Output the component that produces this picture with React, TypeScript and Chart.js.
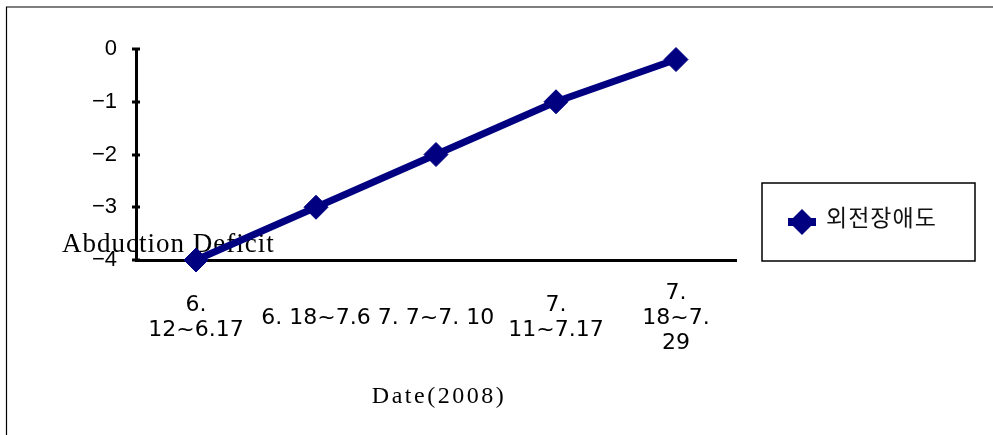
import React, { useEffect, useRef } from "react";
import { Chart, registerables } from "chart.js";

Chart.register(...registerables);

const categories: (string | string[])[] = [
  ["6.", "12~6.17"],
  "6. 18~7.6",
  "7. 7~7. 10",
  ["7.", "11~7.17"],
  ["7.", "18~7.", "29"],
];
const seriesName = "외전장애도";
const deficitValues = [-4, -3, -2, -1, -0.2];
const yMin = -4;
const yMax = 0;
const yStep = 1;
const yTitle = "Abduction Deficit";
const xTitle = "Date(2008)";

const NAVY = "#000080";

const decorPlugin = {
  id: "decor",
  beforeDraw(chart: any) {
    const ctx = chart.ctx;
    ctx.save();
    ctx.fillStyle = "#ffffff";
    ctx.fillRect(0, 0, chart.width, chart.height);
    // outer frame (top & left visible)
    ctx.strokeStyle = "#000";
    ctx.lineWidth = 1.2;
    ctx.beginPath();
    ctx.moveTo(6.5, chart.height);
    ctx.lineTo(6.5, 7);
    ctx.lineTo(chart.width, 7);
    ctx.stroke();
    // axis titles
    ctx.fillStyle = "#000";
    ctx.textBaseline = "alphabetic";
    ctx.font = "27px 'Liberation Serif', serif";
    (ctx as any).letterSpacing = "1px";
    ctx.textAlign = "left";
    ctx.fillText(yTitle, 62, 252);
    ctx.font = "24px 'Liberation Serif', serif";
    (ctx as any).letterSpacing = "2.5px";
    ctx.textAlign = "center";
    const area = chart.chartArea;
    ctx.fillText(xTitle, (area.left + area.right) / 2 + 3, 403);
    (ctx as any).letterSpacing = "0px";
    ctx.restore();
  },
  afterDraw(chart: any) {
    const ctx = chart.ctx;
    const yScale = chart.scales.y;
    const area = chart.chartArea;
    ctx.save();
    ctx.strokeStyle = "#000";
    ctx.lineWidth = 3;
    for (let v = yMin; v <= yMax; v += yStep) {
      const py = Math.round(yScale.getPixelForValue(v));
      ctx.beginPath();
      ctx.moveTo(area.left - 4, py);
      ctx.lineTo(area.left + 4, py);
      ctx.stroke();
    }
    // legend box
    const bx = 762, by = 183, bw = 213, bh = 78;
    ctx.lineWidth = 1.5;
    ctx.strokeRect(bx, by, bw, bh);
    const my = 222;
    ctx.strokeStyle = NAVY;
    ctx.lineWidth = 8;
    ctx.beginPath();
    ctx.moveTo(788, my);
    ctx.lineTo(816, my);
    ctx.stroke();
    ctx.fillStyle = NAVY;
    ctx.beginPath();
    ctx.moveTo(802, my - 13);
    ctx.lineTo(815, my);
    ctx.lineTo(802, my + 13);
    ctx.lineTo(789, my);
    ctx.closePath();
    ctx.fill();
    ctx.fillStyle = "#111";
    ctx.font = "23px 'Noto Sans CJK KR', sans-serif";
    (ctx as any).letterSpacing = "1px";
    ctx.textAlign = "left";
    ctx.textBaseline = "middle";
    ctx.fillText(seriesName, 826, 217);
    (ctx as any).letterSpacing = "0px";
    ctx.restore();
  },
};

export default function App() {
  const canvasRef = useRef<HTMLCanvasElement | null>(null);

  useEffect(() => {
    const canvas = canvasRef.current;
    if (!canvas) return;
    const chart = new Chart(canvas, {
      type: "line",
      data: {
        labels: categories,
        datasets: [
          {
            label: seriesName,
            data: deficitValues,
            borderColor: NAVY,
            backgroundColor: NAVY,
            borderWidth: 7,
            tension: 0,
            pointStyle: "rectRot",
            pointRadius: 12,
            pointBorderWidth: 1,
            pointBackgroundColor: NAVY,
            pointBorderColor: NAVY,
            clip: false as any,
          },
        ],
      },
      options: {
        responsive: false,
        animation: false,
        events: [],
        layout: { padding: { left: 0, top: 49, right: 257, bottom: 75 } },
        plugins: {
          legend: { display: false },
          tooltip: { enabled: false },
          title: { display: false },
        },
        scales: {
          x: {
            type: "category",
            offset: true,
            grid: { display: false, drawTicks: false },
            border: { display: true, color: "#000", width: 3 },
            ticks: {
              autoSkip: false,
              maxRotation: 0,
              minRotation: 0,
              color: "#000",
              padding: 33,
              crossAlign: "center",
              font: { family: "'DejaVu Sans', sans-serif", size: 22, lineHeight: 25 / 22 },
            },
            afterFit(scale: any) {
              scale.height = 100;
            },
          },
          y: {
            min: yMin,
            max: yMax,
            grid: {
              drawOnChartArea: false,
              drawTicks: true,
              tickLength: 4,
              color: "rgba(0,0,0,0)",
            },
            border: { display: true, color: "#000", width: 3 },
            ticks: {
              stepSize: yStep,
              color: "#000",
              padding: 15,
              font: { family: "'Liberation Sans', sans-serif", size: 22 },
              callback: (v: any) => (Number(v) < 0 ? "\u2212" + Math.abs(Number(v)) : String(v)),
            },
            afterFit(scale: any) {
              scale.width = 136;
            },
          },
        },
      },
      plugins: [decorPlugin],
    });
    return () => chart.destroy();
  }, []);

  return (
    <div style={{ position: "absolute", left: 0, top: 0, width: 993, height: 435 }}>
      <canvas ref={canvasRef} width={993} height={435} style={{ display: "block" }} />
    </div>
  );
}
